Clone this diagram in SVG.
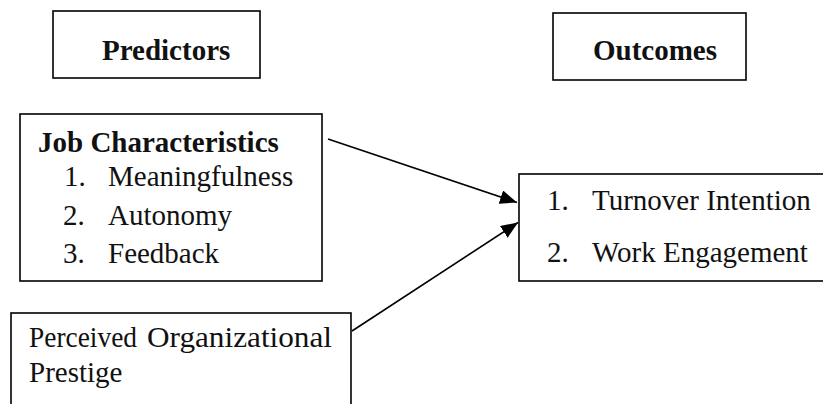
<svg xmlns="http://www.w3.org/2000/svg" width="823" height="404" viewBox="0 0 823 404">
  <style>
    .box { fill: #ffffff; stroke: #000000; stroke-width: 1.6; }
    .t { font-family: "Liberation Serif", "Times New Roman", serif; font-size: 29px; fill: #111111; }
    .b { font-weight: bold; }
    .conn { stroke: #000000; stroke-width: 1.6; fill: none; }
  </style>
  <defs>
    <marker id="arrow" markerUnits="userSpaceOnUse" markerWidth="18" markerHeight="14" refX="17" refY="7" orient="auto">
      <path d="M0,0 L17,7 L0,14 Z" fill="#000000"/>
    </marker>
  </defs>
  <rect width="823" height="404" fill="#ffffff"/>

  <g id="predictors">
    <rect class="box" x="53" y="11" width="207" height="67"/>
    <text class="t b" x="102" y="60">Predictors</text>
  </g>

  <g id="outcomes">
    <rect class="box" x="553" y="13" width="193" height="67"/>
    <text class="t b" x="593" y="60">Outcomes</text>
  </g>

  <g id="job-characteristics">
    <rect class="box" x="20" y="114" width="302" height="167"/>
    <text class="t b" x="38" y="152">Job Characteristics</text>
    <text class="t" x="64" y="186">1.</text>
    <text class="t" x="108" y="186">Meaningfulness</text>
    <text class="t" x="63" y="225">2.</text>
    <text class="t" x="108" y="225">Autonomy</text>
    <text class="t" x="63" y="263">3.</text>
    <text class="t" x="108" y="263">Feedback</text>
  </g>

  <g id="outcome-list">
    <rect class="box" x="519" y="174" width="310" height="107"/>
    <text class="t" x="547" y="210">1.</text>
    <text class="t" x="592" y="210">Turnover Intention</text>
    <text class="t" x="547" y="262">2.</text>
    <text class="t" x="592" y="262">Work Engagement</text>
  </g>

  <g id="perceived-prestige">
    <rect class="box" x="11" y="313" width="340" height="100"/>
    <text class="t" x="29" y="347" textLength="108" lengthAdjust="spacingAndGlyphs">Perceived</text>
    <text class="t" x="147" y="347" textLength="185" lengthAdjust="spacingAndGlyphs">Organizational</text>
    <text class="t" x="29" y="382">Prestige</text>
  </g>

  <g id="connectors">
    <line class="conn" x1="328" y1="139" x2="517" y2="202.5" marker-end="url(#arrow)"/>
    <line class="conn" x1="352" y1="331" x2="518" y2="222.5" marker-end="url(#arrow)"/>
  </g>
</svg>
